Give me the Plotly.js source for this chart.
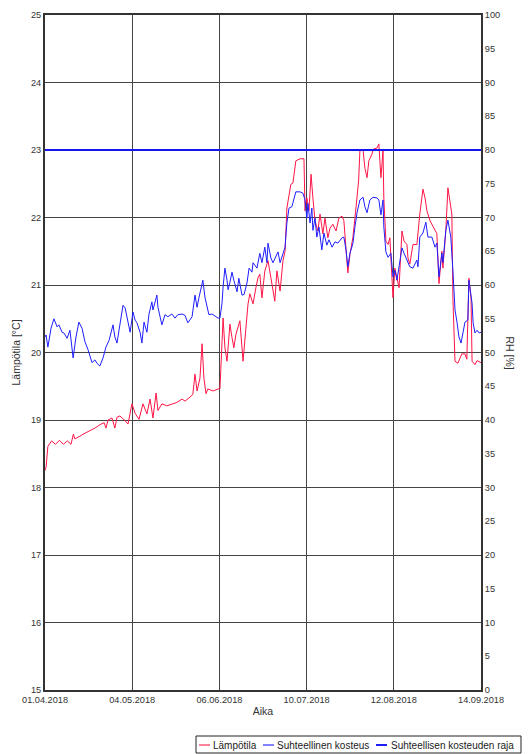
<!DOCTYPE html>
<html>
<head>
<meta charset="utf-8">
<script src="https://cdn.plot.ly/plotly-3.0.1.min.js"></script>
<style>html,body{margin:0;padding:0;background:#fff;}#chart{width:531px;height:754px;}</style>
</head>
<body>
<div id="chart"></div>
<script>
// Day offsets from 01.04.2018 and values
const tempDays = [0,0.4,1.1,2.5,4.0,5.5,7.0,8.5,9.9,10.8,11.4,12.6,13.3,14.5,15.6,17.1,19.0,20.9,22.5,23.2,24.0,25.5,26.6,27.4,28.5,30.5,31.6,33.1,34.3,35.8,37.3,38.8,40.0,41.1,42.3,43.0,44.5,46.4,48.3,50.2,52.2,53.3,55.2,56.3,57.1,57.9,59.0,59.8,60.5,61.3,62.0,64.0,65.9,66.6,67.8,68.5,69.3,70.0,70.4,71.2,71.9,72.7,73.5,74.2,75.4,76.5,77.3,78.0,79.2,80.3,81.1,81.8,82.6,83.7,84.9,86.0,87.5,88.3,89.5,90.6,91.4,92.1,92.9,93.6,94.4,95.2,95.5,97.1,98.6,99.0,99.7,100.5,101.3,102.0,102.8,103.9,104.7,105.8,106.6,107.7,108.5,109.6,110.8,111.9,113.1,113.8,114.6,115.3,116.1,117.2,118.0,118.8,119.4,119.9,121.1,121.8,122.6,123.3,124.5,124.9,126.4,127.1,127.9,128.7,129.0,129.8,130.6,131.3,132.1,132.5,133.2,134.0,134.8,135.9,136.7,137.8,138.2,138.9,140.1,141.6,142.7,143.9,144.7,145.4,146.6,147.7,149.2,150.0,151.1,151.5,152.6,153.4,154.2,154.9,155.3,156.1,157.2,158.7,159.9,160.6,161.4,162.2,162.6,163.7,164.5,165.3,166.0];
const tempValues = [18.25,18.3,18.61,18.69,18.64,18.70,18.64,18.69,18.64,18.79,18.72,18.74,18.76,18.79,18.81,18.84,18.88,18.93,18.96,18.88,19.0,19.03,18.88,19.04,19.06,18.99,18.94,19.24,19.1,19.01,19.24,19.09,19.31,19.03,19.4,19.14,19.24,19.21,19.24,19.26,19.31,19.28,19.34,19.38,19.68,19.43,19.62,20.13,19.62,19.39,19.46,19.43,19.46,19.46,20.51,20.07,19.87,20.32,20.42,20.22,20.07,20.27,20.36,20.47,19.87,20.32,20.72,20.87,20.72,20.96,21.11,21.16,20.81,21.21,21.36,21.11,20.76,21.21,20.91,21.36,21.5,22.14,22.34,22.49,22.51,22.73,22.84,22.87,22.87,22.1,22.29,22.1,22.64,22.29,21.95,21.8,22.05,21.76,21.99,21.7,21.84,21.9,21.8,21.99,22.02,21.95,21.5,21.18,21.45,21.7,21.99,22.29,22.54,22.99,23.0,22.73,22.59,22.84,22.94,23.01,23.03,23.09,22.59,22.99,22.29,21.65,21.6,21.7,21.21,20.81,21.25,21.1,20.96,21.8,21.65,21.6,21.4,21.31,21.6,21.6,22.05,22.42,22.29,22.1,21.95,21.87,21.76,21.02,21.5,21.25,21.8,22.44,22.2,22.05,20.81,19.87,19.84,19.98,19.98,19.9,21.1,20.81,19.87,19.82,19.88,19.87,19.85];

const rhDays = [0,0.4,1.1,2.3,3.4,4.6,5.3,6.5,7.2,8.4,9.5,10.7,11.8,12.9,14.1,15.2,16.4,17.9,19.0,19.8,20.9,22.1,23.2,24.4,25.9,26.6,27.4,28.5,29.7,30.5,31.2,32.4,33.5,34.3,35.0,36.2,36.9,37.7,38.8,39.6,40.7,41.1,42.6,43.0,44.5,45.7,46.8,48.3,49.5,50.6,52.2,53.3,54.4,55.2,56.0,57.1,57.9,58.6,59.4,60.1,60.9,61.7,62.4,63.6,64.7,65.9,66.6,67.4,67.8,68.5,69.3,69.7,70.4,71.2,71.9,73.1,73.8,75.0,75.8,76.9,77.7,78.8,79.2,80.7,81.8,82.6,83.7,84.5,84.9,86.0,86.8,87.9,88.7,89.5,90.6,91.4,92.1,92.9,94.0,94.4,95.5,97.1,98.2,99.0,99.7,100.1,100.9,101.6,102.0,102.8,103.5,104.3,105.4,106.2,107.3,108.1,109.3,110.4,111.5,113.1,113.8,114.6,115.3,116.1,117.2,118.0,118.8,119.9,121.1,121.8,122.6,123.7,124.9,126.4,127.1,127.9,128.7,129.0,129.8,130.6,131.7,132.5,133.2,134.0,135.1,135.9,136.7,137.8,138.9,140.1,141.6,142.0,142.7,143.9,145.0,145.8,147.3,148.5,149.2,150.0,151.1,151.5,152.6,153.4,154.5,155.3,156.1,156.9,157.6,158.4,159.1,159.9,161.0,161.4,162.6,163.0,163.7,164.5,165.3,166.0];
const rhValues = [52.3,52.6,50.8,53.6,55.0,53.8,54.1,53.0,52.9,52.1,53.3,49.2,52.3,54.5,53.6,51.6,50.4,48.5,48.9,48.4,48.0,49.2,50.8,51.8,54.1,52.3,51.4,53.8,57.0,56.6,55.3,53.0,56.0,54.8,54.4,53.0,51.4,54.5,53.0,55.7,57.5,56.3,58.5,56.7,54.1,55.6,55.3,55.7,55.1,55.6,55.7,55.5,54.4,54.8,55.3,58.5,56.7,58.1,59.7,60.7,58.2,56.7,55.6,55.7,55.4,55.1,55.1,57.3,59.7,62.5,60.7,59.3,60.4,61.9,60.7,59.0,61.0,58.5,58.6,60.3,62.5,61.9,63.3,62.5,64.7,63.3,65.6,63.3,66.2,64.0,63.3,64.4,64.9,63.3,64.7,65.6,69.2,71.4,71.6,72.3,73.8,73.8,73.6,72.6,69.9,72.1,69.2,71.4,68.1,69.9,67.1,68.6,65.2,67.7,65.9,66.7,65.6,66.4,66.2,67.0,67.1,65.2,62.7,64.7,66.1,68.6,70.7,72.6,73.0,71.6,70.7,72.6,73.0,72.9,72.6,70.4,72.6,68.6,64.9,64.1,64.7,61.2,62.2,60.7,63.3,65.5,64.7,63.7,62.7,62.5,63.7,62.7,67.1,67.7,69.3,67.1,67.1,65.6,66.2,61.2,64.7,63.3,68.1,69.6,67.1,62.2,56.3,54.4,52.3,51.4,52.9,54.5,54.8,60.7,57.3,54.4,52.9,53.3,52.9,53.0];

const limitDays = [0, 166];
const limitValues = [80, 80];

const xTickDays = [0, 33.2, 66.4, 99.6, 132.8, 166];
const xTickLabels = ["01.04.2018","04.05.2018","06.06.2018","10.07.2018","12.08.2018","14.09.2018"];

const seriesNames = ["Lämpötila","Suhteellinen kosteus","Suhteellisen kosteuden raja"];
const seriesColors = ['rgb(255,20,70)', 'rgb(30,30,255)', 'rgb(20,20,240)'];
const seriesWidths = [1, 1, 2];
const legendLineColors = ['rgb(255,130,155)', 'rgb(130,130,255)', 'rgb(30,30,245)'];

function toDate(d) {
  const t = Date.UTC(2018, 3, 1) + d * 86400000;
  return new Date(t).toISOString().replace('T', ' ').slice(0, 19);
}

const traces = [
  {x: tempDays.map(toDate), y: tempValues, name: seriesNames[0], type: 'scatter', mode: 'lines',
   line: {color: seriesColors[0], width: seriesWidths[0]}, yaxis: 'y'},
  {x: rhDays.map(toDate), y: rhValues, name: seriesNames[1], type: 'scatter', mode: 'lines',
   line: {color: seriesColors[1], width: seriesWidths[1]}, yaxis: 'y2'},
  {x: limitDays.map(toDate), y: limitValues, name: seriesNames[2], type: 'scatter', mode: 'lines',
   line: {color: seriesColors[2], width: seriesWidths[2]}, yaxis: 'y2'}
];

// Plot area geometry (pixels) used to place the hand-drawn legend box
const W = 531, H = 754, ML = 45, MR = 50, MT = 15, MB = 64;
const PW = W - ML - MR, PH = H - MT - MB;
const px = v => (v - ML) / PW;
const py = v => (H - MB - v) / PH;

const fontFam = 'Liberation Sans, Arial, sans-serif';
const tickSize = 9.2, titleSize = 10.5, legendSize = 10;
const shapes = [
  {type: 'rect', xref: 'paper', yref: 'paper', x0: px(196), x1: px(521), y0: py(753), y1: py(736),
   line: {color: '#222', width: 1}, fillcolor: 'rgba(0,0,0,0)'}
];
const legendLineX = [199, 263, 376];
const legendTextX = [211, 275, 389];
const annotations = [
  {text: 'RH [%]', xref: 'paper', yref: 'paper', x: px(510), y: 0.5, textangle: 90, showarrow: false,
   font: {size: titleSize, color: '#333'}, xanchor: 'center', yanchor: 'middle'}
];
seriesNames.forEach((n, i) => {
  shapes.push({type: 'line', xref: 'paper', yref: 'paper', x0: px(legendLineX[i]), x1: px(legendLineX[i] + 11),
               y0: py(745), y1: py(745), line: {color: legendLineColors[i], width: 2}});
  annotations.push({text: n, xref: 'paper', yref: 'paper', x: px(legendTextX[i]), y: py(745),
                    xanchor: 'left', yanchor: 'middle', showarrow: false,
                    font: {family: fontFam, size: legendSize, color: '#222'}});
});

const layout = {
  width: W, height: H,
  margin: {l: ML, r: MR, t: MT, b: MB, autoexpand: false},
  paper_bgcolor: '#fff', plot_bgcolor: '#fff',
  font: {family: fontFam, size: tickSize, color: '#333'},
  showlegend: false,
  xaxis: {type: 'date', range: [toDate(0), toDate(166)], tickvals: xTickDays.map(toDate), ticktext: xTickLabels,
          showgrid: true, gridcolor: '#444', gridwidth: 1, zeroline: false,
          showline: true, linecolor: '#333', linewidth: 2, mirror: true, ticks: '',
          tickfont: {size: tickSize, color: '#333'}, tickangle: 0, automargin: false,
          title: {text: 'Aika', font: {size: titleSize, color: '#333'}, standoff: 4}},
  yaxis: {range: [15, 25], dtick: 1, tick0: 15, showgrid: true, gridcolor: '#444', gridwidth: 1, zeroline: false,
          showline: true, linecolor: '#333', linewidth: 2, mirror: true, ticks: '', automargin: false,
          tickfont: {size: tickSize, color: '#333'},
          title: {text: 'Lämpötila [°C]', font: {size: titleSize, color: '#333'}, standoff: 8}},
  yaxis2: {range: [0, 100], dtick: 5, tick0: 0, overlaying: 'y', side: 'right', showgrid: false, zeroline: false,
           showline: true, linecolor: '#333', linewidth: 2, ticks: '', automargin: false,
           tickfont: {size: tickSize, color: '#333'}},
  shapes: shapes,
  annotations: annotations
};

Plotly.newPlot('chart', traces, layout, {displayModeBar: false, staticPlot: true});
</script>
</body>
</html>
